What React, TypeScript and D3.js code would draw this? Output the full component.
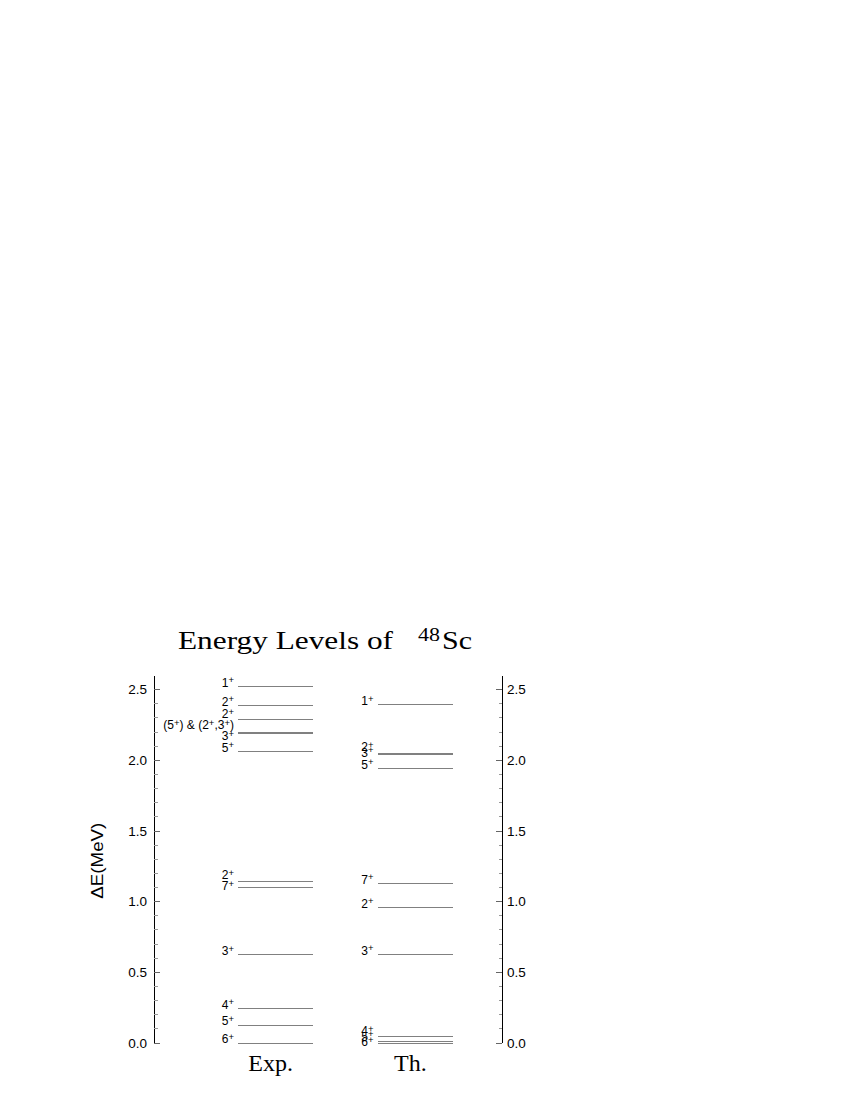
import React from 'react';
import * as d3 from 'd3';

// level energies in MeV
const EXP_ENERGY = [0, 0.127, 0.246, 0.623, 1.102, 1.14, 2.064, 2.189, 2.195, 2.286, 2.39, 2.522];
const EXP_SPIN = ['6+', '5+', '4+', '3+', '7+', '2+', '5+', '3+', '(5+) & (2+,3+)', '2+', '2+', '1+'];
const TH_ENERGY = [0, 0.01, 0.045, 0.628, 0.96, 1.13, 1.944, 2.045, 2.05, 2.392];
const TH_SPIN = ['6+', '5+', '4+', '3+', '2+', '7+', '5+', '3+', '2+', '1+'];
const COLUMNS = ['Exp.', 'Th.'];
const MAJOR_TICKS = [0, 0.5, 1.0, 1.5, 2.0, 2.5];
const MINOR_TICKS = d3.range(0, 26).map(i => i / 10);

const W = 850;
const H = 1100;
const LEFT_AXIS = 154;
const RIGHT_AXIS = 502;

const y = d3.scaleLinear().domain([0, 2.6]).range([1043, 675.6]);
const x = d3.scaleBand().domain(COLUMNS).range([238, 453]).paddingInner(0.46);
const fmt = d3.format('.1f');

// push overlapping labels apart, keeping each cluster centred on its levels
function spreadLabels(naturals: number[], gap: number) {
	const order = naturals.map((v, i) => i).sort((a, b) => naturals[a] - naturals[b]);
	let clusters: { idx: number[]; start: number }[] = [];
	order.forEach(i => {
		clusters.push({ idx: [i], start: naturals[i] });
		while (clusters.length > 1) {
			const cur = clusters[clusters.length - 1];
			const prev = clusters[clusters.length - 2];
			if (prev.start + prev.idx.length * gap > cur.start) {
				const idx = prev.idx.concat(cur.idx);
				const mean = d3.mean(idx, k => naturals[k]) as number;
				clusters.splice(clusters.length - 2, 2, { idx, start: mean - ((idx.length - 1) * gap) / 2 });
			} else break;
		}
	});
	const out: number[] = new Array(naturals.length);
	clusters.forEach(c => c.idx.forEach((k, j) => (out[k] = c.start + j * gap)));
	return out;
}

function Spin({ label, xEnd, yMid }: { label: string; xEnd: number; yMid: number }) {
	const parts = label.split('+');
	const kids: any[] = [];
	parts.forEach((p, i) => {
		kids.push(
			<tspan key={'t' + i} dy={i > 0 ? 3.5 : 0}>
				{p}
			</tspan>
		);
		if (i < parts.length - 1) {
			kids.push(
				<tspan key={'p' + i} fontSize={9.5} dy={-3.5}>
					+
				</tspan>
			);
		}
	});
	return (
		<text x={xEnd} y={yMid + 4} textAnchor="end" fontSize={12} fill="#000">
			{kids}
		</text>
	);
}

function Column({ name, energies, spins, gap }: { name: string; energies: number[]; spins: string[]; gap: number }) {
	const x0 = x(name) as number;
	const x1 = x0 + x.bandwidth();
	const labelY = spreadLabels(energies.map(e => y(e) - 3.7), gap);
	return (
		<g>
			{energies.map((e, i) => (
				<line key={'l' + i} x1={x0} x2={x1} y1={y(e)} y2={y(e)} stroke="#808080" strokeWidth={1} />
			))}
			{energies.map((e, i) => (
				<Spin key={'s' + i} label={spins[i]} xEnd={x0 - 4} yMid={labelY[i]} />
			))}
			<text
				x={(x0 + x1) / 2 - 5}
				y={1071}
				textAnchor="middle"
				fontFamily="'Liberation Serif', 'Times New Roman', serif"
				fontSize={24}
			>
				{name}
			</text>
		</g>
	);
}

function Axis({ xPos, side }: { xPos: number; side: 'left' | 'right' }) {
	const dir = side === 'left' ? 1 : -1; // ticks point inward
	return (
		<g>
			<line x1={xPos} x2={xPos} y1={y(0)} y2={y(2.6)} stroke="#000" strokeWidth={1} />
			{MINOR_TICKS.map(t => {
				const major = MAJOR_TICKS.some(m => Math.abs(m - t) < 1e-6);
				return (
					<line
						key={t}
						x1={xPos}
						x2={xPos + dir * (major ? 6 : 3.5)}
						y1={y(t)}
						y2={y(t)}
						stroke={major ? '#666' : '#999'}
						strokeWidth={1}
					/>
				);
			})}
			{MAJOR_TICKS.map(t => (
				<text
					key={'t' + t}
					x={side === 'left' ? xPos - 7 : xPos + 5}
					y={y(t)}
					dy="0.35em"
					textAnchor={side === 'left' ? 'end' : 'start'}
					fontSize={13.5}
				>
					{fmt(t)}
				</text>
			))}
		</g>
	);
}

export default function App() {
	return (
		<svg
			width={W}
			height={H}
			style={{ position: 'absolute', left: 0, top: 0, background: '#fff' }}
			fontFamily="'Liberation Sans', Arial, Helvetica, sans-serif"
			shapeRendering="crispEdges"
		>
			<g fontFamily="'Liberation Serif', 'Times New Roman', serif" shapeRendering="auto">
				<text x={178} y={649} fontSize={26} textLength={215} lengthAdjust="spacingAndGlyphs">
					Energy Levels of
				</text>
				<text x={418} y={641} fontSize={19} textLength={22} lengthAdjust="spacingAndGlyphs">
					48
				</text>
				<text x={442} y={649} fontSize={26} textLength={30} lengthAdjust="spacingAndGlyphs">
					Sc
				</text>
			</g>
			<Axis xPos={LEFT_AXIS} side="left" />
			<Axis xPos={RIGHT_AXIS} side="right" />
			<text
				transform={`translate(97, ${y(1.29)}) rotate(-90)`}
				textAnchor="middle"
				dy="0.35em"
				fontSize={16}
				textLength={76}
				lengthAdjust="spacingAndGlyphs"
			>
				ΔE(MeV)
			</text>
			<Column name="Exp." energies={EXP_ENERGY} spins={EXP_SPIN} gap={11} />
			<Column name="Th." energies={TH_ENERGY} spins={TH_SPIN} gap={5.5} />
		</svg>
	);
}
